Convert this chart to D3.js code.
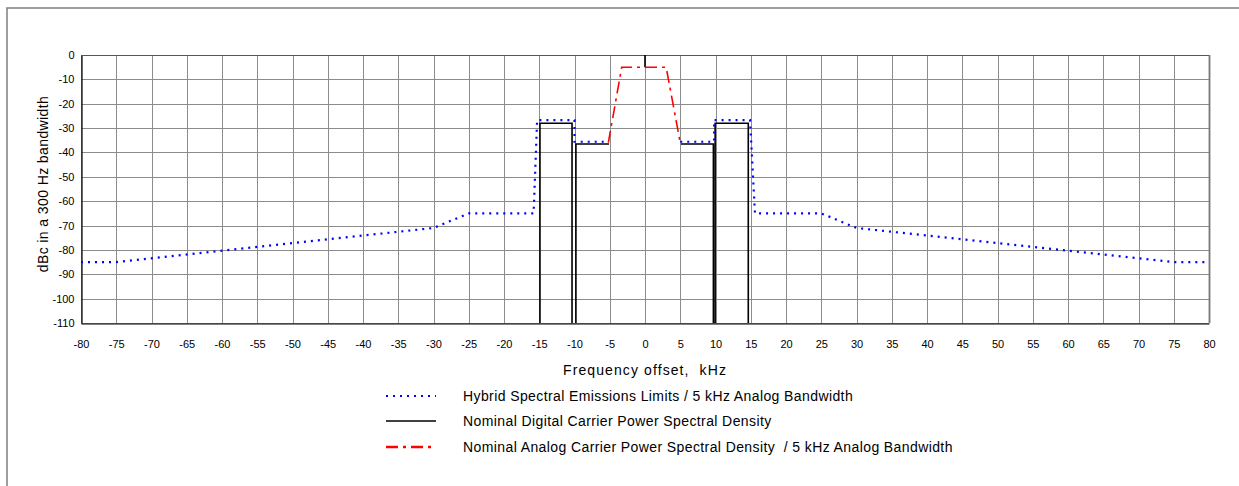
<!DOCTYPE html>
<html><head><meta charset="utf-8">
<script src="https://cdn.jsdelivr.net/npm/d3@7/dist/d3.min.js"></script>
<style>body{margin:0;background:#fff}svg{display:block;font-family:"Liberation Sans",Arial,sans-serif}</style>
</head><body><svg id="c" width="1239" height="486"></svg>
<script>
// ---- data ----
const xTicks = d3.range(-80, 81, 5);
const yTicks = d3.range(0, -111, -10);
// Hybrid spectral emissions limits (NaN = gap under analog trace)
const limitFreq = [-80, -75, -30, -25, -15.8, -15.3, -10, -10, -5.2, NaN, 5.0, 9.8, 9.8, 14.9, 15.6, 25, 30, 75, 80];
const limitDb   = [-85, -85, -71, -65, -65, -26.7, -26.7, -35.6, -35.6, NaN, -35.6, -35.6, -26.7, -26.7, -65, -65, -71, -85, -85];
// Nominal digital carrier PSD (NaN = break between segments)
const digitalFreq = [-14.9, -14.9, -10.35, -10.35, NaN, -9.8, -9.8, -5.1, NaN, 5.1, 9.7, 9.7, NaN, 9.95, 9.95, 14.65, 14.65, NaN, 0, 0];
const digitalDb   = [-110, -28, -28, -110, NaN, -110, -36.5, -36.5, NaN, -36.5, -36.5, -110, NaN, -110, -28, -28, -110, NaN, 0, -5];
// Nominal analog carrier PSD
const analogFreq = [-5.2, -3.3, 3.0, 5.0];
const analogDb   = [-36, -5, -5, -36];
const legendLabels = [
  "Hybrid Spectral Emissions Limits / 5 kHz Analog Bandwidth",
  "Nominal Digital Carrier Power Spectral Density",
  "Nominal Analog Carrier Power Spectral Density  / 5 kHz Analog Bandwidth"
];

const svg = d3.select("#c");
const x = d3.scaleLinear().domain([-80, 80]).range([81, 1209]);
const y = d3.scaleLinear().domain([0, -110]).range([55, 323]);
const FONT = '"Liberation Sans",Arial,sans-serif';

// outer frame (extends past window)
svg.append("rect").attr("x", 7).attr("y", 8).attr("width", 1400).attr("height", 700)
  .attr("fill", "none").attr("stroke", "#7f7f7f").attr("stroke-width", 1.5);

// grid
const g = svg.append("g");
g.selectAll(".vg").data(xTicks).join("line")
  .attr("x1", d => Math.round(x(d)) + 0.5).attr("x2", d => Math.round(x(d)) + 0.5)
  .attr("y1", y(0)).attr("y2", y(-110)).attr("stroke", "#8c8c8c").attr("stroke-width", 1);
g.selectAll(".hg").data(yTicks).join("line")
  .attr("y1", d => Math.round(y(d)) + 0.5).attr("y2", d => Math.round(y(d)) + 0.5)
  .attr("x1", x(-80)).attr("x2", x(80)).attr("stroke", "#8c8c8c").attr("stroke-width", 1);

// axes
const fmt = d => String(d);
const xAxis = d3.axisBottom(x).tickValues(xTicks).tickFormat(fmt).tickSize(0).tickPadding(17);
const yAxis = d3.axisLeft(y).tickValues(yTicks).tickFormat(fmt).tickSize(0).tickPadding(7);
const xa = svg.append("g").attr("transform", `translate(0,${Math.round(y(-110)) + 0.5})`).call(xAxis);
const ya = svg.append("g").attr("transform", `translate(${Math.round(x(-80)) + 0.5},0)`).call(yAxis);
[xa, ya].forEach(a => {
  a.select(".domain").attr("stroke", "#000").attr("stroke-width", 1.2);
  a.selectAll("text").attr("font-size", 11).attr("fill", "#000").attr("font-family", FONT);
});
// top and right plot border
svg.append("line").attr("x1", x(-80)).attr("x2", x(80)).attr("y1", Math.round(y(0)) + 0.5).attr("y2", Math.round(y(0)) + 0.5)
  .attr("stroke", "#555").attr("stroke-width", 1.2);
svg.append("line").attr("x1", Math.round(x(80)) + 0.5).attr("x2", Math.round(x(80)) + 0.5).attr("y1", y(0)).attr("y2", y(-110))
  .attr("stroke", "#777").attr("stroke-width", 1.8);

// titles
svg.append("text").attr("x", 645).attr("y", 375).attr("text-anchor", "middle")
  .attr("xml:space", "preserve").style("white-space", "pre")
  .attr("font-size", 14).attr("letter-spacing", 1.1).text("Frequency offset,  kHz");
svg.append("text").attr("transform", `translate(48,184) rotate(-90)`)
  .attr("text-anchor", "middle").attr("font-size", 14).attr("letter-spacing", 0.4)
  .text("dBc in a 300 Hz bandwidth");

// series
const mk = (fx, fy) => d3.line().defined(i => !isNaN(fx[i]) && !isNaN(fy[i]))
  .x(i => x(fx[i])).y(i => y(fy[i]));
const idx = a => d3.range(a.length);

svg.append("path").attr("d", mk(digitalFreq, digitalDb)(idx(digitalFreq)))
  .attr("fill", "none").attr("stroke", "#000").attr("stroke-width", 1.6);
svg.append("path").attr("d", mk(limitFreq, limitDb)(idx(limitFreq)))
  .attr("fill", "none").attr("stroke", "#0000ff").attr("stroke-width", 2.2)
  .attr("stroke-dasharray", "2,5");
svg.append("path").attr("d", mk(analogFreq, analogDb)(idx(analogFreq)))
  .attr("fill", "none").attr("stroke", "#ff0000").attr("stroke-width", 1.6)
  .attr("stroke-dasharray", "12,5,3,5");

// legend
const legStyles = [
  {stroke: "#0000ff", w: 2.2, dash: "2,5"},
  {stroke: "#000", w: 1.4, dash: null},
  {stroke: "#ff0000", w: 2.4, dash: "12,5,3,5"}
];
const rowsY = [396, 421, 447];
legendLabels.forEach((t, i) => {
  svg.append("line").attr("x1", 386).attr("x2", 436).attr("y1", rowsY[i]).attr("y2", rowsY[i])
    .attr("stroke", legStyles[i].stroke).attr("stroke-width", legStyles[i].w)
    .attr("stroke-dasharray", legStyles[i].dash);
  svg.append("text").attr("x", 463).attr("y", rowsY[i] + 5)
    .attr("xml:space", "preserve").style("white-space", "pre")
    .attr("font-size", 14).attr("letter-spacing", 0.4).text(t);
});
</script></body></html>
